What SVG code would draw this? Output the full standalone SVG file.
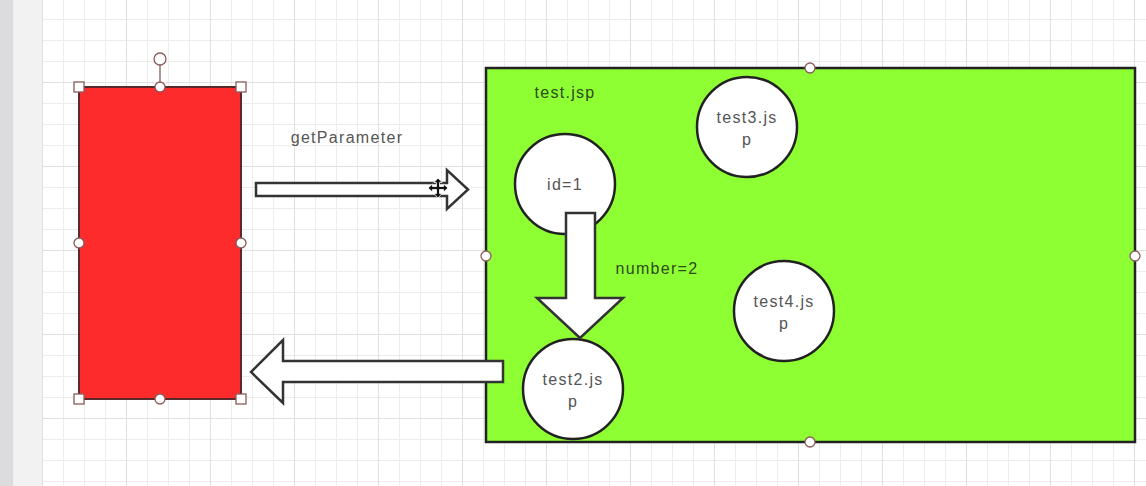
<svg xmlns="http://www.w3.org/2000/svg" width="1146" height="486" viewBox="0 0 1146 486">
<style>
.lbl{font-family:"Liberation Sans",Arial,sans-serif;font-size:16px;letter-spacing:1.3px;text-anchor:middle}
.gray{fill:#555}
.dark{fill:#2f4a1c}
.circ{fill:#fff;stroke:#222;stroke-width:2.5}
.arrow{fill:#fff;stroke:#333;stroke-width:2.5;stroke-linejoin:miter}
.hc{fill:#fff;stroke:#8a5b5b;stroke-width:1.3}
</style>
<defs>
<pattern id="minor" patternUnits="userSpaceOnUse" x="42" y="19" width="21" height="21">
<path d="M0.5 0V21M0 0.5H21" fill="none" stroke="#ececec" stroke-width="1"/>
</pattern>
<pattern id="major" patternUnits="userSpaceOnUse" x="42" y="82" width="84" height="84">
<path d="M0.5 0V84M0 0.5H84" fill="none" stroke="#e0e0e0" stroke-width="1"/>
</pattern>
</defs>
<rect width="1146" height="486" fill="#fff"/>
<rect x="42" width="1104" height="486" fill="url(#minor)"/>
<rect x="42" width="1104" height="486" fill="url(#major)"/>
<rect width="13" height="486" fill="#dcdcdf"/>
<rect x="13" width="29" height="486" fill="#f2f2f2"/>

<g id="client">
<rect x="79" y="87" width="162" height="312" fill="#fd2b2b" stroke="#5a2a2a" stroke-width="2"/>
<line x1="160" y1="65" x2="160" y2="87" stroke="#8a5b5b" stroke-width="1.3"/>
<circle class="hc" cx="160" cy="59" r="6"/>
<rect class="hc" x="74" y="82" width="10" height="10"/>
<rect class="hc" x="236" y="82" width="10" height="10"/>
<rect class="hc" x="74" y="394" width="10" height="10"/>
<rect class="hc" x="236" y="394" width="10" height="10"/>
<circle class="hc" cx="160" cy="87" r="5"/>
<circle class="hc" cx="79" cy="243" r="5"/>
<circle class="hc" cx="241" cy="243" r="5"/>
<circle class="hc" cx="160" cy="399" r="5"/>
</g>

<g id="testjsp">
<rect x="486" y="68" width="649" height="374" fill="#8eff33" stroke="#222" stroke-width="2.5"/>
<text class="lbl dark" x="565" y="98">test.jsp</text>
<circle class="hc" cx="810" cy="68" r="5"/>
<circle class="hc" cx="486" cy="256" r="5"/>
<circle class="hc" cx="1135" cy="256" r="5"/>
<circle class="hc" cx="810" cy="442" r="5"/>
</g>

<g id="id1">
<circle class="circ" cx="565" cy="184" r="50"/>
<text class="lbl gray" x="565" y="190">id=1</text>
</g>
<g id="test3">
<circle class="circ" cx="747" cy="127" r="50"/>
<text class="lbl gray" x="747" y="123">test3.js</text>
<text class="lbl gray" x="747" y="145">p</text>
</g>
<g id="test4">
<circle class="circ" cx="784" cy="311" r="50"/>
<text class="lbl gray" x="784" y="307">test4.js</text>
<text class="lbl gray" x="784" y="329">p</text>
</g>
<g id="test2">
<circle class="circ" cx="573" cy="389" r="50"/>
<text class="lbl gray" x="573" y="385">test2.js</text>
<text class="lbl gray" x="573" y="407">p</text>
</g>

<g id="connectors">
<path class="arrow" d="M256 183H447V170L468 189.5L447 209V196H256Z"/>
<path class="arrow" d="M566 213H595V298H623L580 338L537 298H566Z"/>
<path class="arrow" d="M503 361V382H283V403L251 372L283 340V361Z"/>
<text class="lbl gray" x="347" y="143">getParameter</text>
<text class="lbl dark" x="657" y="274">number=2</text>
</g>

<g id="cursor">
<path d="M438 178L442 182.5H439.5V186.5H443.5V184L448 188L443.5 192V189.5H439.5V193.5H442L438 198L434 193.5H436.5V189.5H432.5V192L428 188L432.5 184V186.5H436.5V182.5H434Z" fill="#111" stroke="#fff" stroke-width="0.8"/>
</g>
</svg>
